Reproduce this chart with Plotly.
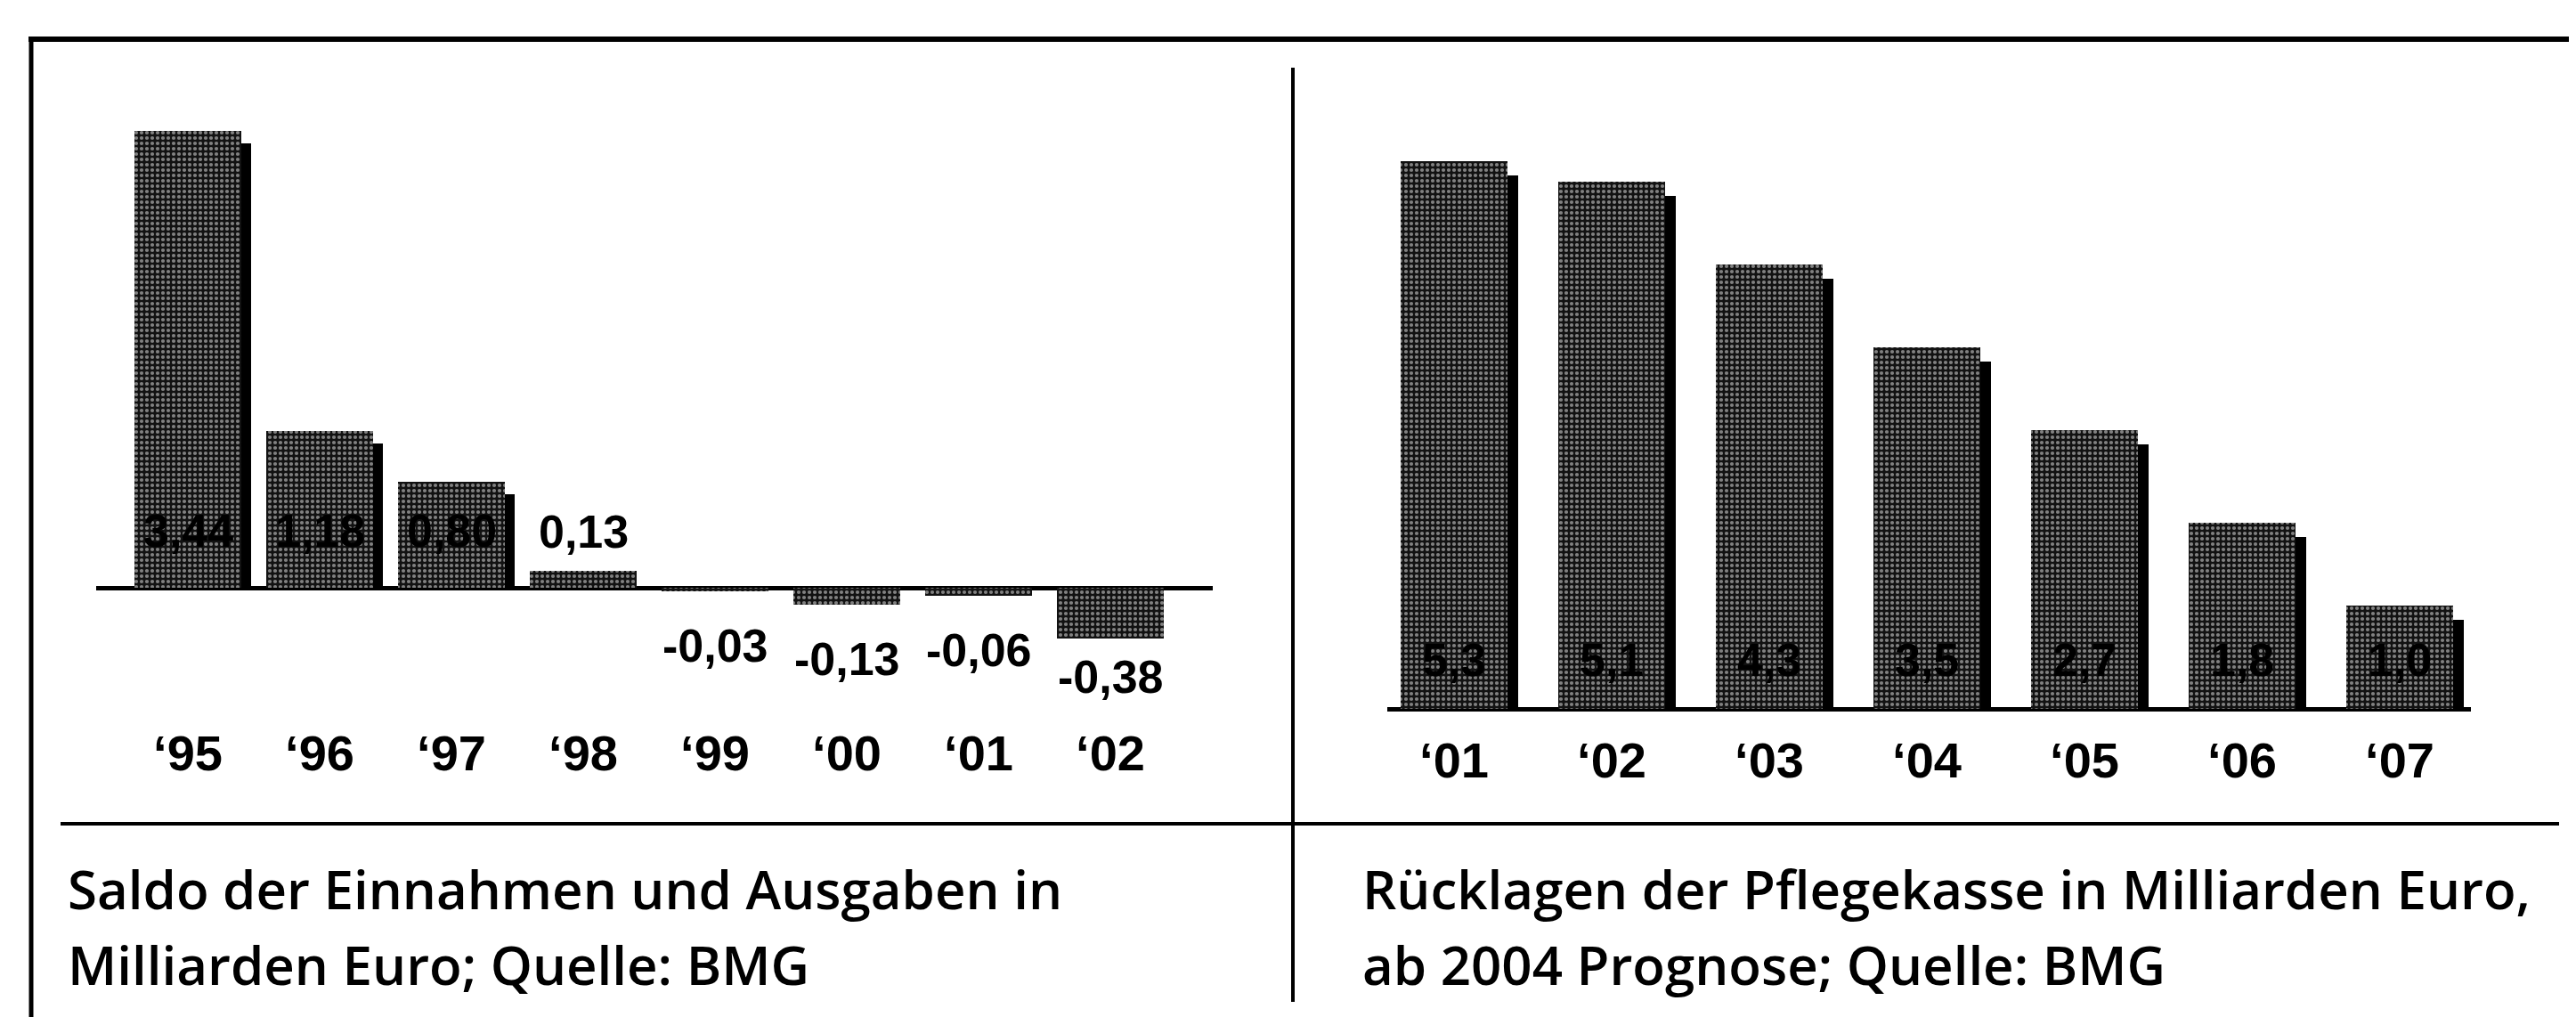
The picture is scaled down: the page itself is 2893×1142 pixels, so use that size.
import plotly.graph_objects as go

# ---------------- data ----------------
left_years = ["‘95", "‘96", "‘97", "‘98", "‘99", "‘00", "‘01", "‘02"]
left_values = [3.44, 1.18, 0.80, 0.13, -0.03, -0.13, -0.06, -0.38]
left_labels = ["3,44", "1,18", "0,80", "0,13", "-0,03", "-0,13", "-0,06", "-0,38"]

right_years = ["‘01", "‘02", "‘03", "‘04", "‘05", "‘06", "‘07"]
right_values = [5.3, 5.1, 4.3, 3.5, 2.7, 1.8, 1.0]
right_labels = ["5,3", "5,1", "4,3", "3,5", "2,7", "1,8", "1,0"]

left_caption = ["Saldo der Einnahmen und Ausgaben in", "Milliarden Euro; Quelle: BMG"]
right_caption = ["Rücklagen der Pflegekasse in Milliarden Euro,", "ab 2004 Prognose; Quelle: BMG"]

# ---------------- layout helpers ----------------
W, H = 2893, 1142
def px_x(p):
    return p / W
def px_y(p):
    return 1 - p / H

NARROW = "Liberation Sans, Arial, sans-serif"
CAPFONT = "Open Sans, Noto Sans, sans-serif"

# left panel geometry (pixels)
L_x0, L_x1, L_c0, L_step = 100, 1354, 203, 148
L_top, L_bot, L_base, L_unit = 90, 800, 652, 149
# right panel geometry
R_x0, R_x1, R_c0, R_step = 1550, 2767, 1625, 177
R_top, R_bot, R_base, R_unit = 90, 808, 788, 116

L_w = 120 / L_step
R_w = 120 / R_step
L_sh = 11 / L_step
R_sh = 12 / R_step
L_drop = 14 / L_unit
R_drop = 16 / R_unit

pattern = dict(shape=".", fgcolor="#f0f0f0", bgcolor="#121212", size=6, solidity=0.38)
pattern_neg = dict(shape=".", fgcolor="#f4f4f4", bgcolor="#1a1a1a", size=5, solidity=0.5)

fig = go.Figure()

# left shadows + bars
lx = list(range(len(left_values)))
fig.add_trace(go.Bar(
    x=lx, y=[max(v - L_drop, 0) if v > 0.3 else 0 for v in left_values],
    width=L_w, offset=-L_w / 2 + L_sh, marker=dict(color="black", line=dict(width=0)),
    xaxis="x", yaxis="y", hoverinfo="skip", showlegend=False))
fig.add_trace(go.Bar(
    x=lx, y=left_values, width=L_w, offset=-L_w / 2,
    marker=dict(color="#555", pattern=pattern, line=dict(width=0)),
    xaxis="x", yaxis="y", showlegend=False))

# right shadows + bars
rx = list(range(len(right_values)))
fig.add_trace(go.Bar(
    x=rx, y=[v - R_drop for v in right_values],
    width=R_w, offset=-R_w / 2 + R_sh, marker=dict(color="black", line=dict(width=0)),
    xaxis="x2", yaxis="y2", hoverinfo="skip", showlegend=False))
fig.add_trace(go.Bar(
    x=rx, y=right_values, width=R_w, offset=-R_w / 2,
    marker=dict(color="#555", pattern=pattern, line=dict(width=0)),
    xaxis="x2", yaxis="y2", showlegend=False))

annotations = []
valfont = dict(family=NARROW, size=52, color="black", weight="bold")
infont = dict(family=NARROW, size=52, color="#000000", weight="bold")
for i, (v, t) in enumerate(zip(left_values, left_labels)):
    if v > 0.5:
        annotations.append(dict(x=i, y=0, xref="x", yref="y", text=t, showarrow=False,
                                yanchor="bottom", yshift=33, font=infont))
    elif v > 0:
        annotations.append(dict(x=i, y=v, xref="x", yref="y", text=t, showarrow=False,
                                yanchor="bottom", yshift=13, font=valfont))
    else:
        annotations.append(dict(x=i, y=v, xref="x", yref="y", text=t, showarrow=False,
                                yanchor="top", yshift=-30 if v > -0.2 else -12, font=valfont))
for i, t in enumerate(right_labels):
    annotations.append(dict(x=i, y=0, xref="x2", yref="y2", text=t, showarrow=False,
                            yanchor="bottom", yshift=24, font=infont))

capfont = dict(family=CAPFONT, size=60, color="black", weight=600)
for k, line in enumerate(left_caption):
    annotations.append(dict(x=px_x(66), y=px_y([990, 1075][k]), xref="paper", yref="paper",
                            text=line, showarrow=False, xanchor="left", yanchor="middle", font=capfont))
for k, line in enumerate(right_caption):
    annotations.append(dict(x=px_x(1520), y=px_y([990, 1075][k]), xref="paper", yref="paper",
                            text=line, showarrow=False, xanchor="left", yanchor="middle", font=capfont))

shapes = [
    dict(type="line", xref="paper", yref="paper", x0=px_x(24), x1=1, y0=px_y(36), y1=px_y(36),
         line=dict(color="black", width=6)),
    dict(type="line", xref="paper", yref="paper", x0=px_x(27), x1=px_x(27), y0=px_y(33), y1=0,
         line=dict(color="black", width=5)),
    dict(type="line", xref="paper", yref="paper", x0=px_x(1444), x1=px_x(1444), y0=px_y(68), y1=px_y(1117),
         line=dict(color="black", width=4)),
    dict(type="line", xref="paper", yref="paper", x0=px_x(60), x1=px_x(2866), y0=px_y(917), y1=px_y(917),
         line=dict(color="black", width=4)),
]

tickfont = dict(family=NARROW, size=56, color="black", weight="bold")
common_x = dict(showgrid=False, zeroline=False, showline=False, ticks="", tickfont=tickfont, fixedrange=True)
common_y = dict(showgrid=False, showticklabels=False, ticks="", showline=False, zeroline=True,
                zerolinecolor="black", zerolinewidth=5, fixedrange=True)

fig.update_layout(
    width=W, height=H, margin=dict(l=0, r=0, t=0, b=0),
    paper_bgcolor="white", plot_bgcolor="white", barmode="overlay", bargap=0,
    xaxis=dict(domain=[px_x(L_x0), px_x(L_x1)], anchor="y",
               range=[(L_x0 - L_c0) / L_step, (L_x1 - L_c0) / L_step],
               tickvals=lx, ticktext=left_years, **common_x),
    yaxis=dict(domain=[px_y(L_bot), px_y(L_top)], anchor="x",
               range=[(L_base - L_bot) / L_unit, (L_base - L_top) / L_unit], **common_y),
    xaxis2=dict(domain=[px_x(R_x0), px_x(R_x1)], anchor="y2",
                range=[(R_x0 - R_c0) / R_step, (R_x1 - R_c0) / R_step],
                tickvals=rx, ticktext=right_years, **common_x),
    yaxis2=dict(domain=[px_y(R_bot), px_y(R_top)], anchor="x2",
                range=[(R_base - R_bot) / R_unit, (R_base - R_top) / R_unit], **common_y),
    annotations=annotations, shapes=shapes,
)

fig.write_html("out.html")
